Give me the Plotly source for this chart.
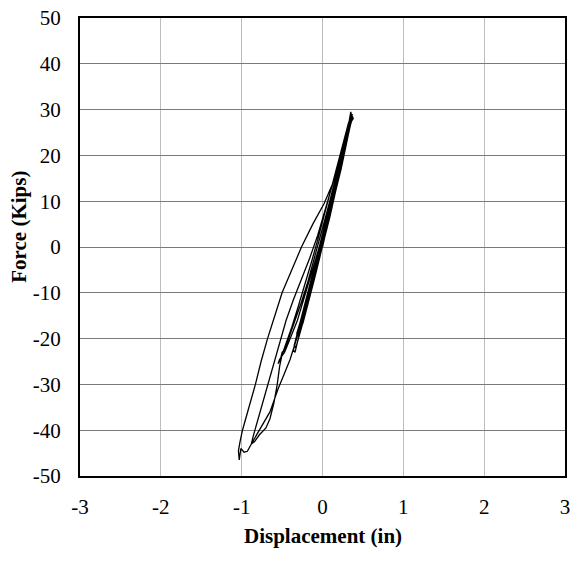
import plotly.graph_objects as go

# Hysteresis data (in, kips)
displacement = [
    0.0, 0.05, 0.10, 0.16, 0.22, 0.27, 0.30,
    0.24, 0.16, 0.08, 0.00, -0.07, -0.14, -0.21, -0.27, -0.30,
    -0.24, -0.17, -0.10, -0.03, 0.04, 0.11, 0.18, 0.25, 0.31, 0.34,
    0.32, 0.26, 0.19, 0.11, 0.03, -0.05, -0.12, -0.20, -0.27, -0.33, -0.36, -0.34,
    -0.30, -0.23, -0.16, -0.08, -0.01, 0.06, 0.13, 0.20, 0.27, 0.32, 0.36, 0.35,
    0.33, 0.27, 0.20, 0.12, 0.04, -0.04, -0.11, -0.18, -0.25, -0.31, -0.35, -0.33,
    -0.28, -0.21, -0.14, -0.06, 0.02, 0.09, 0.16, 0.23, 0.29, 0.33, 0.36, 0.34,
    0.33, 0.28, 0.21, 0.13, 0.05, -0.04, -0.13, -0.22, -0.31, -0.40, -0.47, -0.53, -0.55,
    -0.52, -0.50, -0.47, -0.41, -0.34, -0.26, -0.18, -0.10, -0.02, 0.06, 0.14, 0.22, 0.29, 0.34, 0.37,
    0.35, 0.30, 0.22, 0.13, 0.04, -0.06, -0.16, -0.26, -0.36, -0.45, -0.53, -0.61, -0.69, -0.76, -0.82, -0.86, -0.88,
    -0.84, -0.78, -0.70, -0.65, -0.60, -0.56, -0.53, -0.50, -0.45, -0.38, -0.30, -0.22, -0.14, -0.06, 0.02, 0.10, 0.18, 0.26, 0.32, 0.36, 0.38,
    0.36, 0.30, 0.22, 0.13, 0.02, -0.12, -0.26, -0.38, -0.50, -0.59, -0.68, -0.76, -0.83, -0.91, -0.99, -1.02, -1.04, -1.03,
    -1.01, -0.97, -0.93, -0.88, -0.80, -0.72, -0.65, -0.60, -0.55, -0.48, -0.40, -0.32, -0.24, -0.16, -0.08, 0.00, 0.08, 0.16, 0.24, 0.30, 0.35, 0.37,
    0.34, 0.27, 0.19, 0.11, 0.03, -0.05, -0.13, -0.21, -0.28, -0.32,
    -0.26, -0.18, -0.10, -0.02, 0.05, 0.12, 0.19, 0.26, 0.31, 0.33,
    0.29, 0.22, 0.14, 0.06, -0.02, -0.09, -0.16, -0.22, -0.26,
    -0.20, -0.12, -0.05, 0.02, 0.08,
]
force = [
    0.0, 4.0, 8.0, 12.5, 17.0, 21.0, 23.5,
    19.5, 14.0, 8.0, 2.5, -3.0, -8.0, -13.0, -17.0, -19.5,
    -16.5, -12.0, -7.0, -2.0, 3.5, 9.0, 14.5, 20.0, 25.0, 27.5,
    26.0, 21.0, 15.5, 10.0, 4.0, -1.5, -6.5, -12.0, -16.5, -20.5, -22.5, -23.0,
    -20.0, -15.5, -11.0, -5.5, -0.5, 5.0, 10.5, 16.0, 21.5, 25.5, 28.5, 29.5,
    27.5, 22.5, 17.0, 11.5, 5.5, 0.0, -5.0, -10.0, -15.0, -19.0, -21.5, -22.0,
    -19.0, -14.5, -9.5, -4.0, 1.5, 6.5, 12.0, 17.0, 22.0, 25.5, 28.0, 28.5,
    27.0, 23.0, 17.5, 12.0, 6.0, 0.0, -5.5, -11.0, -16.0, -20.0, -23.0, -24.5, -25.5,
    -24.5, -23.0, -22.5, -19.5, -16.0, -12.0, -7.5, -2.5, 2.5, 8.0, 13.5, 19.0, 24.0, 27.5, 29.0,
    28.0, 25.0, 19.5, 14.0, 8.5, 2.5, -2.5, -7.0, -11.5, -16.0, -21.0, -26.0, -30.5, -35.0, -39.0, -41.5, -43.0,
    -42.5, -41.0, -39.5, -37.5, -34.0, -30.0, -26.0, -23.5, -21.0, -17.5, -13.0, -8.5, -3.5, 1.5, 7.0, 12.5, 18.0, 23.5, 27.0, 29.0, 28.0,
    27.5, 24.0, 19.0, 14.0, 9.5, 5.0, 0.0, -5.0, -10.0, -15.0, -20.0, -25.0, -30.0, -35.0, -40.0, -42.5, -44.5, -46.5,
    -44.0, -44.8, -44.6, -43.0, -40.5, -38.0, -36.0, -33.5, -31.0, -28.0, -24.5, -20.0, -15.0, -10.0, -4.5, 1.0, 6.5, 12.0, 18.0, 23.0, 27.0, 28.5,
    26.0, 21.0, 15.5, 10.0, 4.5, -1.0, -6.5, -12.0, -17.0, -19.0,
    -15.5, -10.0, -4.5, 1.0, 6.0, 11.0, 16.5, 21.5, 25.0, 26.5,
    23.5, 18.5, 12.5, 7.0, 1.5, -3.5, -8.5, -13.0, -16.0,
    -12.5, -7.0, -2.0, 3.0, 7.5,
]

x_ticks = [-3, -2, -1, 0, 1, 2, 3]
y_ticks = [-50, -40, -30, -20, -10, 0, 10, 20, 30, 40, 50]

fig = go.Figure()
fig.add_trace(go.Scatter(
    x=displacement, y=force, mode="lines",
    line=dict(color="black", width=1.3), showlegend=False,
))

fig.update_xaxes(
    range=[-3, 3], tickvals=x_ticks, ticktext=[str(v) for v in x_ticks],
    showgrid=True, gridcolor="#bdbdbd", gridwidth=1.2,
    zeroline=False, showline=True, linecolor="black", linewidth=2, mirror=True,
    ticks="", ticklabelstandoff=11,
    tickfont=dict(family="Liberation Serif", size=21, color="black"),
)
fig.update_yaxes(
    range=[-50, 50], tickvals=y_ticks, ticktext=[str(v) for v in y_ticks],
    showgrid=True, gridcolor="#7a7a7a", gridwidth=1.2,
    zeroline=False, showline=True, linecolor="black", linewidth=2, mirror=True,
    ticks="", ticklabelstandoff=13,
    tickfont=dict(family="Liberation Serif", size=21, color="black"),
)

fig.add_annotation(
    text="<b>Displacement (in)</b>", xref="paper", yref="paper",
    x=0.5, y=-0.13, xanchor="center", yanchor="middle", showarrow=False,
    font=dict(family="Liberation Serif", size=21, color="black"),
)
fig.add_annotation(
    text="<b>Force (Kips)</b>", xref="paper", yref="paper",
    x=-0.125, y=0.545, xanchor="center", yanchor="middle", showarrow=False,
    textangle=-90,
    font=dict(family="Liberation Serif", size=21, color="black"),
)

fig.update_layout(
    width=576, height=574,
    margin=dict(l=80, r=6, t=16, b=98),
    plot_bgcolor="white", paper_bgcolor="white",
)

fig.write_html("out.html")
